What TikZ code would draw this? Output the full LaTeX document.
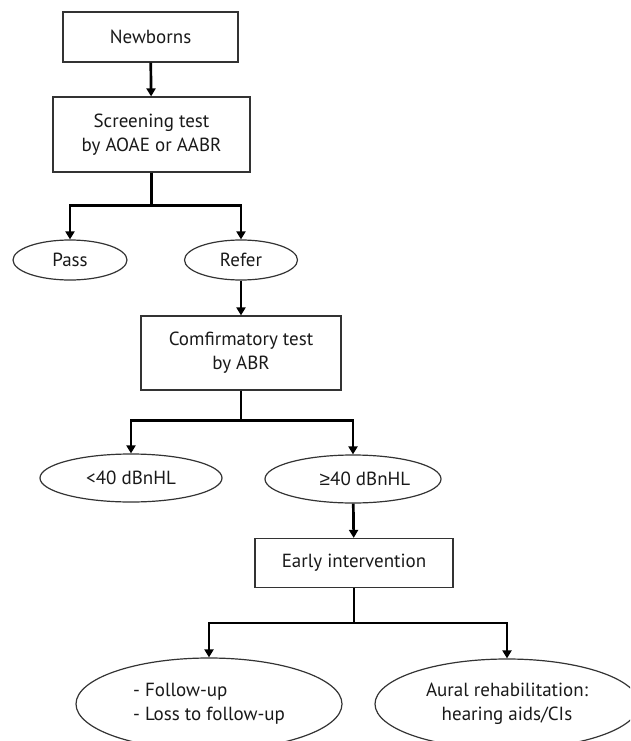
\documentclass[tikz,border=0pt]{standalone}
\usepackage{fontspec}
\setmainfont{PT Sans}
\newfontfamily\symfont{Liberation Sans}
\usetikzlibrary{shapes,arrows.meta,positioning}

\begin{document}
\begin{tikzpicture}[
    x=1pt, y=-1pt,
    every node/.style={
        inner sep=0pt,
        align=center,
        text=black!90,
        font=\fontsize{19}{24}\selectfont
    },
    box/.style={rectangle, draw=black!80, line width=1.2pt},
    oval/.style={ellipse, draw=black!80, line width=1.2pt},
    flow/.style={draw, line width=2.7pt, -{Triangle[width=9pt,length=8pt]}}
]
\clip (0,0) rectangle (630,741);
\node[box, minimum width=175pt, minimum height=50pt] (newborns) at (150.5,37) {Newborns};
\node[box, minimum width=197pt, minimum height=75pt] (screen) at (151.5,134.5) {Screening test\\by AOAE or AABR};
\node[oval, minimum width=114pt, minimum height=40pt] (pass) at (70,260) {Pass};
\node[oval, minimum width=113pt, minimum height=40pt] (refer) at (241,260) {Refer};
\node[box, minimum width=200pt, minimum height=74pt] (confirm) at (241,353) {Comfirmatory test\\by ABR};
\node[oval, minimum width=182pt, minimum height=48pt] (low) at (131,478) {<40 dBnHL};
\node[oval, minimum width=176pt, minimum height=48pt] (high) at (353,479) {\hspace{24pt}{\symfont ≥}40 dBnHL};
\node[box, minimum width=198pt, minimum height=49pt] (early) at (354,563) {Early intervention};
\node[oval, minimum width=266pt, minimum height=92pt, align=left] (follow) at (209,704) {- Follow-up\\- Loss to follow-up};
\node[oval, minimum width=264pt, minimum height=90pt] (aural) at (507,704) {Aural rehabilitation:\\hearing aids/CIs};

\draw[flow] (newborns) -- (screen);
\draw[flow] (screen.south) -- ++(0,33) -| (pass.north);
\draw[flow] (screen.south) -- ++(0,33) -| (refer.north);
\draw[flow] (refer) -- (confirm);
\draw[flow] (confirm.south) -- ++(0,30) -| (low.north);
\draw[flow] (confirm.south) -- ++(0,30) -| (high.north);
\draw[flow] (high) -- (early);
\draw[flow] (early.south) -- ++(0,35) -| (follow.north);
\draw[flow] (early.south) -- ++(0,35) -| (aural.north);
\end{tikzpicture}
\end{document}
